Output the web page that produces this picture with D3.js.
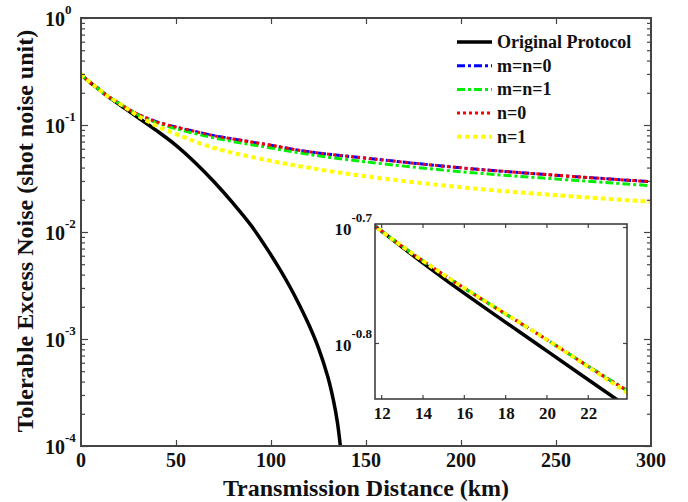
<!DOCTYPE html>
<html>
<head>
<meta charset="utf-8">
<script src="https://cdn.jsdelivr.net/npm/d3@7"></script>
<style>
  body { margin: 0; background: #fff; }
  svg { display: block; }
  text { font-family: "Liberation Serif", "Times New Roman", serif; font-weight: bold; fill: #111; }
</style>
</head>
<body>
<div id="chart"></div>
<script>
// distances (km)
const distOriginal = [0, 2, 5, 8, 12, 15, 20, 24, 30, 40, 50, 60, 70, 80, 90, 100, 105, 110, 115, 120, 125, 130, 133, 135, 136.5];
const distImproved = [0, 2, 5, 8, 12, 15, 20, 24, 30, 40, 50, 60, 70, 80, 90, 100, 120, 150, 200, 250, 300];

// tolerable excess noise (shot noise unit)
const originalProtocol = [0.300, 0.275, 0.248, 0.226, 0.198, 0.1803, 0.1561, 0.1393, 0.1175, 0.0881, 0.0646, 0.0447, 0.0295, 0.0186, 0.01122, 0.00610, 0.00437, 0.00306, 0.00207, 0.00135, 0.000822, 0.000437, 0.000260, 0.000164, 0.0001];
const mn0 = [0.300, 0.275, 0.248, 0.226, 0.198, 0.1816, 0.1596, 0.1439, 0.1260, 0.1070, 0.0955, 0.0871, 0.0794, 0.0741, 0.0692, 0.0646, 0.0562, 0.0490, 0.0398, 0.0339, 0.0295];
const mn1 = [0.300, 0.275, 0.248, 0.226, 0.198, 0.1816, 0.1596, 0.1439, 0.1245, 0.1047, 0.0923, 0.0832, 0.0759, 0.0700, 0.0653, 0.0610, 0.0531, 0.0452, 0.0366, 0.0313, 0.0271];
const n0 = [0.300, 0.275, 0.248, 0.226, 0.198, 0.1816, 0.1596, 0.1439, 0.1260, 0.1070, 0.0955, 0.0871, 0.0794, 0.0741, 0.0692, 0.0646, 0.0562, 0.0490, 0.0398, 0.0339, 0.0295];
const n1 = [0.300, 0.275, 0.248, 0.226, 0.198, 0.1816, 0.1596, 0.1432, 0.1216, 0.0977, 0.0822, 0.0700, 0.0610, 0.0550, 0.0501, 0.0462, 0.0398, 0.0331, 0.0262, 0.0221, 0.0192];

const seriesNames = ["Original Protocol", "m=n=0", "m=n=1", "n=0", "n=1"];
const xTicks = [0, 50, 100, 150, 200, 250, 300];
const yDecades = [0, -1, -2, -3, -4];
const insetXTicks = [12, 14, 16, 18, 20, 22];
const insetYTicks = ["-0.7", "-0.8"];

const series = [
    { name: seriesNames[0], x: distOriginal, y: originalProtocol, color: "#000", width: 3.5, dash: null },
    { name: seriesNames[1], x: distImproved, y: mn0, color: "#0000ff", width: 3, dash: "8,3,3,3" },
    { name: seriesNames[2], x: distImproved, y: mn1, color: "#00ee00", width: 3, dash: "8,3,3,3" },
    { name: seriesNames[3], x: distImproved, y: n0, color: "#ff0000", width: 3, dash: "3,3" },
    { name: seriesNames[4], x: distImproved, y: n1, color: "#ffff00", width: 4, dash: "4.5,3.5" }
];

const width = 688, height = 502;
const svg = d3.select("#chart").append("svg").attr("width", width).attr("height", height);

const plot = { left: 81, right: 651, top: 18, bottom: 446 };
const x = d3.scaleLinear().domain([0, 300]).range([plot.left, plot.right]);
const y = d3.scaleLog().domain([1e-4, 1]).range([plot.bottom, plot.top]);

svg.append("clipPath").attr("id", "mainClip").append("rect")
    .attr("x", plot.left).attr("y", plot.top)
    .attr("width", plot.right - plot.left).attr("height", plot.bottom - plot.top);

function drawLines(g, xs, ys) {
    series.forEach(s => {
        const pts = s.x.map((d, i) => [d, s.y[i]]);
        const line = d3.line().x(d => xs(d[0])).y(d => ys(d[1])).curve(d3.curveCatmullRom.alpha(0.5));
        g.append("path")
            .attr("d", line(pts))
            .attr("fill", "none")
            .attr("stroke", s.color)
            .attr("stroke-width", s.width)
            .attr("stroke-dasharray", s.dash);
    });
}

drawLines(svg.append("g").attr("clip-path", "url(#mainClip)"), x, y);

// main axes
const axisColor = "#444";
const minorTicks = y.ticks().filter(v => !yDecades.some(e => Math.abs(Math.log10(v) - e) < 1e-6));
const majorTicks = yDecades.map(e => Math.pow(10, e));

function styleAxis(g) {
    g.select(".domain").remove();
    g.selectAll("line").attr("stroke", axisColor).attr("stroke-width", 1.2);
    g.selectAll("text").remove();
}

svg.append("g").attr("transform", `translate(${plot.left},0)`)
    .call(d3.axisRight(y).tickValues(majorTicks).tickSize(7)).call(styleAxis);
svg.append("g").attr("transform", `translate(${plot.left},0)`)
    .call(d3.axisRight(y).tickValues(minorTicks).tickSize(4)).call(styleAxis);
svg.append("g").attr("transform", `translate(${plot.right},0)`)
    .call(d3.axisLeft(y).tickValues(majorTicks).tickSize(7)).call(styleAxis);
svg.append("g").attr("transform", `translate(${plot.right},0)`)
    .call(d3.axisLeft(y).tickValues(minorTicks).tickSize(4)).call(styleAxis);
svg.append("g").attr("transform", `translate(0,${plot.bottom})`)
    .call(d3.axisTop(x).tickValues(xTicks.slice(1, -1)).tickSize(6)).call(styleAxis);
svg.append("g").attr("transform", `translate(0,${plot.top})`)
    .call(d3.axisBottom(x).tickValues(xTicks.slice(1, -1)).tickSize(6)).call(styleAxis);

svg.append("rect")
    .attr("x", plot.left).attr("y", plot.top)
    .attr("width", plot.right - plot.left).attr("height", plot.bottom - plot.top)
    .attr("fill", "none").attr("stroke", axisColor).attr("stroke-width", 2);

// tick labels
svg.selectAll("text.xtick")
    .data(xTicks)
    .enter()
    .append("text")
    .attr("class", "xtick")
    .attr("x", d => x(d))
    .attr("y", 467)
    .attr("text-anchor", "middle")
    .style("font-size", "20px")
    .text(d => d);

yDecades.forEach(e => {
    const t = svg.append("text")
        .attr("x", 45)
        .attr("y", y(Math.pow(10, e)) + 8)
        .style("font-size", "20px")
        .text("10");
    t.append("tspan")
        .attr("dy", -12)
        .style("font-size", "13px")
        .text(e);
});

svg.append("text")
    .attr("x", (plot.left + plot.right) / 2)
    .attr("y", 496)
    .attr("text-anchor", "middle")
    .style("font-size", "24px")
    .text("Transmission Distance (km)");

svg.append("text")
    .attr("transform", "translate(33,231) rotate(-90)")
    .attr("text-anchor", "middle")
    .style("font-size", "24px")
    .text("Tolerable Excess Noise (shot noise unit)");

// legend
const legend = svg.append("g");
series.forEach((s, i) => {
    const cy = 42 + i * 23.7;
    legend.append("line")
        .attr("x1", 457).attr("x2", 492)
        .attr("y1", cy).attr("y2", cy)
        .attr("stroke", s.color)
        .attr("stroke-width", s.width)
        .attr("stroke-dasharray", s.dash);
    legend.append("text")
        .attr("x", 497)
        .attr("y", cy + 6)
        .style("font-size", "18px")
        .text(s.name);
});

// inset
const inset = { left: 375, right: 627, top: 224, bottom: 399 };
const xi = d3.scaleLinear().domain([11.7, 23.9]).range([inset.left, inset.right]);
const yi = d3.scaleLog().domain([Math.pow(10, -0.8483), Math.pow(10, -0.6974)]).range([inset.bottom, inset.top]);

svg.append("rect")
    .attr("x", inset.left).attr("y", inset.top)
    .attr("width", inset.right - inset.left).attr("height", inset.bottom - inset.top)
    .attr("fill", "#fff");

svg.append("clipPath").attr("id", "insetClip").append("rect")
    .attr("x", inset.left).attr("y", inset.top)
    .attr("width", inset.right - inset.left).attr("height", inset.bottom - inset.top);

drawLines(svg.append("g").attr("clip-path", "url(#insetClip)"), xi, yi);

const insetYVals = insetYTicks.map(e => Math.pow(10, +e));
svg.append("g").attr("transform", `translate(0,${inset.bottom})`)
    .call(d3.axisTop(xi).tickValues(insetXTicks).tickSize(4)).call(styleAxis);
svg.append("g").attr("transform", `translate(0,${inset.top})`)
    .call(d3.axisBottom(xi).tickValues(insetXTicks).tickSize(4)).call(styleAxis);
svg.append("g").attr("transform", `translate(${inset.left},0)`)
    .call(d3.axisRight(yi).tickValues(insetYVals).tickSize(4)).call(styleAxis);
svg.append("g").attr("transform", `translate(${inset.right},0)`)
    .call(d3.axisLeft(yi).tickValues(insetYVals).tickSize(4)).call(styleAxis);

svg.append("rect")
    .attr("x", inset.left).attr("y", inset.top)
    .attr("width", inset.right - inset.left).attr("height", inset.bottom - inset.top)
    .attr("fill", "none").attr("stroke", "#333").attr("stroke-width", 1.5);

svg.selectAll("text.ixtick")
    .data(insetXTicks)
    .enter()
    .append("text")
    .attr("class", "ixtick")
    .attr("x", d => xi(d) + 1)
    .attr("y", 419)
    .attr("text-anchor", "middle")
    .style("font-size", "17px")
    .text(d => d);

insetYTicks.forEach(e => {
    const t = svg.append("text")
        .attr("x", 372)
        .attr("y", yi(Math.pow(10, +e)) + 8)
        .attr("text-anchor", "end")
        .style("font-size", "17px")
        .text("10");
    t.append("tspan")
        .attr("dy", -13)
        .style("font-size", "13px")
        .text(e);
});
</script>
</body>
</html>
